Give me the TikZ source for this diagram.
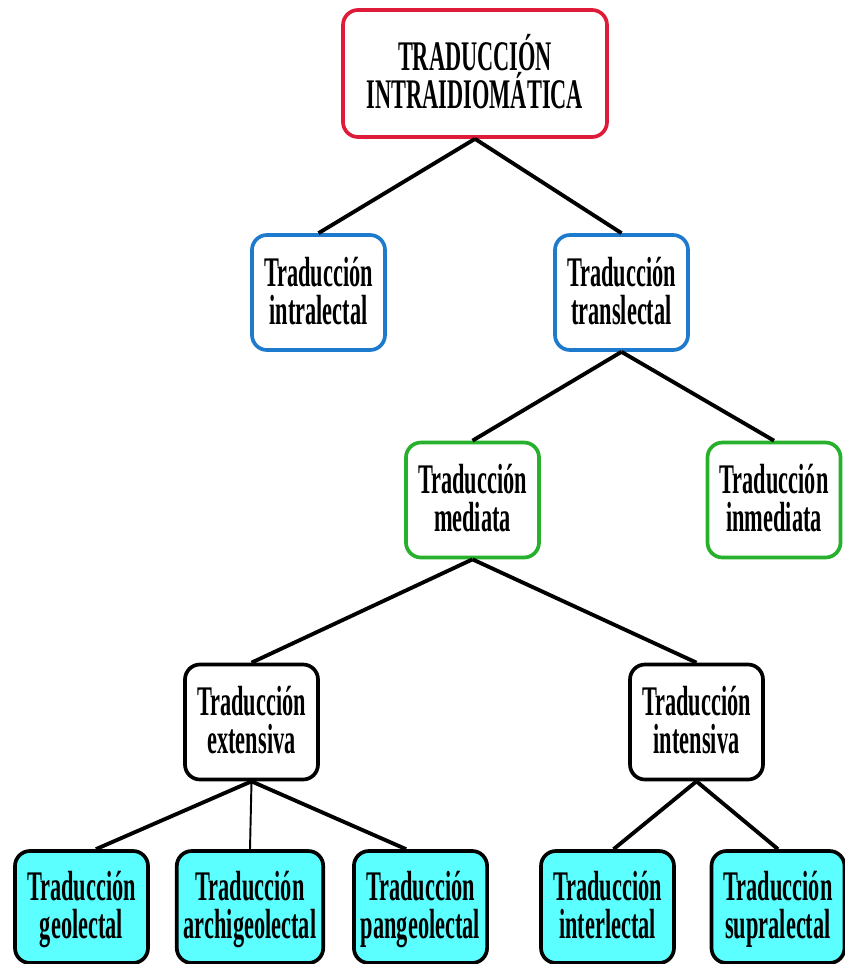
\documentclass[tikz,border=0pt]{standalone}
\usepackage{fontspec}
\setmainfont{Liberation Serif}[FakeStretch=0.53]

\definecolor{rootred}{RGB}{222,28,58}
\definecolor{lectblue}{RGB}{30,122,204}
\definecolor{medgreen}{RGB}{38,176,44}
\definecolor{leafcyan}{RGB}{92,255,255}

\begin{document}
\begin{tikzpicture}[
    box/.style={draw, rounded corners=0.3cm, line width=2.1pt, align=center,
      inner xsep=0.14cm, inner ysep=0pt, minimum width=2.66cm, minimum height=2.3cm,
      text depth=0.22em, font=\bfseries\fontsize{24}{21.8}\selectfont},
    leaf/.style={box, fill=leafcyan, minimum height=2.24cm},
    link/.style={line width=2.2pt}
  ]
    \useasboundingbox (0,0) rectangle (16.9,-19.28);

    \node[box, draw=rootred, minimum width=5.28cm, minimum height=2.54cm] (root) at (9.5,-1.47) {TRADUCCIÓN\\INTRAIDIOMÁTICA};

    \node[box, draw=lectblue] (intra) at (6.37,-5.85) {Traducción\\intralectal};
    \node[box, draw=lectblue] (trans) at (12.43,-5.85) {Traducción\\translectal};

    \node[box, draw=medgreen] (med) at (9.45,-10) {Traducción\\mediata};
    \node[box, draw=medgreen] (inmed) at (15.48,-10) {Traducción\\inmediata};

    \node[box] (ext) at (5.03,-14.44) {Traducción\\extensiva};
    \node[box] (int) at (13.93,-14.44) {Traducción\\intensiva};

    \node[leaf] (geo) at (1.63,-18.14) {Traducción\\geolectal};
    \node[leaf] (archi) at (5.0,-18.14) {Traducción\\archigeolectal};
    \node[leaf] (pangeo) at (8.41,-18.14) {Traducción\\pangeolectal};
    \node[leaf] (inter) at (12.15,-18.14) {Traducción\\interlectal};
    \node[leaf] (supra) at (15.56,-18.14) {Traducción\\supralectal};

    \draw[link] (root.south) -- (intra.north);
    \draw[link] (root.south) -- (trans.north);
    \draw[link] (trans.south) -- (med.north);
    \draw[link] (trans.south) -- (inmed.north);
    \draw[link] (med.south) -- (ext.north);
    \draw[link] (med.south) -- (int.north);

    \draw[link] (ext.south) -- (geo.76);
    \draw[line width=1.1pt] (ext.south) -- (archi.north);
    \draw[link] (ext.south) -- (pangeo.104);
    \draw[link] (int.south) -- (inter.84);
    \draw[link] (int.south) -- (supra.north);
  \end{tikzpicture}
\end{document}
